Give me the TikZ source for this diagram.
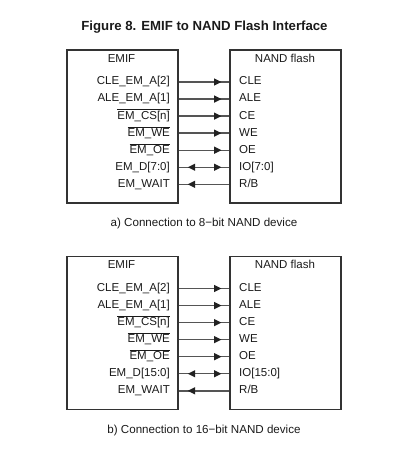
\documentclass[tikz,border=0pt]{standalone}
\usepackage{fontspec}
\setmainfont{Liberation Sans}
\usetikzlibrary{arrows.meta,decorations.markings}
\definecolor{boxc}{HTML}{333333}
\definecolor{linec}{HTML}{555555}
\definecolor{tipc}{HTML}{222222}
\definecolor{txtc}{HTML}{1A1A1A}
\newcommand{\ovl}[1]{$\overline{\mbox{#1}}$}
\begin{document}
\begin{tikzpicture}[x=1pt,y=-1pt,
  font=\fontsize{11.5}{13}\selectfont, text=txtc,
  blk/.style={draw=boxc, line width=1.7pt, minimum width=111pt, minimum height=153pt, anchor=north west, inner sep=0pt},
  lab/.style={inner sep=0pt, text height=8.3pt, text depth=2.4pt},
  llab/.style={lab, anchor=east},
  rlab/.style={lab, anchor=west},
  conn/.style={draw=linec, line width=1.4pt},
  tipR/.style={postaction={decorate}, decoration={markings, mark=at position -7.5pt with {\arrow[tipc]{Triangle[length=7.5pt 0,width=7pt 0]}}}},
  tipL/.style={postaction={decorate}, decoration={markings, mark=at position 9pt with {\arrowreversed[tipc]{Triangle[length=7.5pt 0,width=7pt 0]}}}},
  tipLR/.style={postaction={decorate}, decoration={markings,
     mark=at position 9pt with {\arrowreversed[tipc]{Triangle[length=7.5pt 0,width=7pt 0]}},
     mark=at position -7.5pt with {\arrow[tipc]{Triangle[length=7.5pt 0,width=7pt 0]}}}},
  captext/.style={font=\fontsize{11.6}{13}\selectfont}
]
\useasboundingbox (0,0) rectangle (405,468);
\node[font=\fontsize{13.2}{15}\selectfont\bfseries] (title) at (204.5,27) {Figure 8. EMIF to NAND Flash Interface};

\foreach \p/\dy/\w/\capt in {A/0/7:0/a) Connection to 8−bit NAND device, B/206.5/15:0/b) Connection to 16−bit NAND device}{
  \begin{scope}[yshift=-\dy pt]
    \node[blk] (emif\p) at (66,49) {};
    \node[blk] (nand\p) at (229,49) {};
    \node[lab] (emifh\p) at (121.5,59.5) {EMIF};
    \node[lab] (nandh\p) at (285,59.5) {NAND flash};
    \node[llab] (l1\p) at (170,82) {CLE\_EM\_A[2]};
    \node[llab] (l2\p) at (170,99.05) {ALE\_EM\_A[1]};
    \node[llab] (l3\p) at (170,116.1) {\ovl{EM\_CS[n]}};
    \node[llab] (l4\p) at (170,133.15) {\ovl{EM\_WE}};
    \node[llab] (l5\p) at (170,150.2) {\ovl{EM\_OE}};
    \node[llab] (l6\p) at (170,167.25) {EM\_D[\w]};
    \node[llab] (l7\p) at (170,184.3) {EM\_WAIT};
    \node[rlab] (r1\p) at (239,82) {CLE};
    \node[rlab] (r2\p) at (239,99.05) {ALE};
    \node[rlab] (r3\p) at (239,116.1) {CE};
    \node[rlab] (r4\p) at (239,133.15) {WE};
    \node[rlab] (r5\p) at (239,150.2) {OE};
    \node[rlab] (r6\p) at (239,167.25) {IO[\w]};
    \node[rlab] (r7\p) at (239,184.3) {R/B};
    \foreach \i in {1,...,5}{
      \path[conn, tipR] (emif\p.east |- l\i\p) -- (nand\p.west |- r\i\p);
    }
    \path[conn, tipLR] (emif\p.east |- l6\p) -- (nand\p.west |- r6\p);
    \path[conn, tipL] (emif\p.east |- l7\p) -- (nand\p.west |- r7\p);
    \node[captext] (cap\p) at (204,223.5) {\capt};
  \end{scope}
}
\end{tikzpicture}
\end{document}
